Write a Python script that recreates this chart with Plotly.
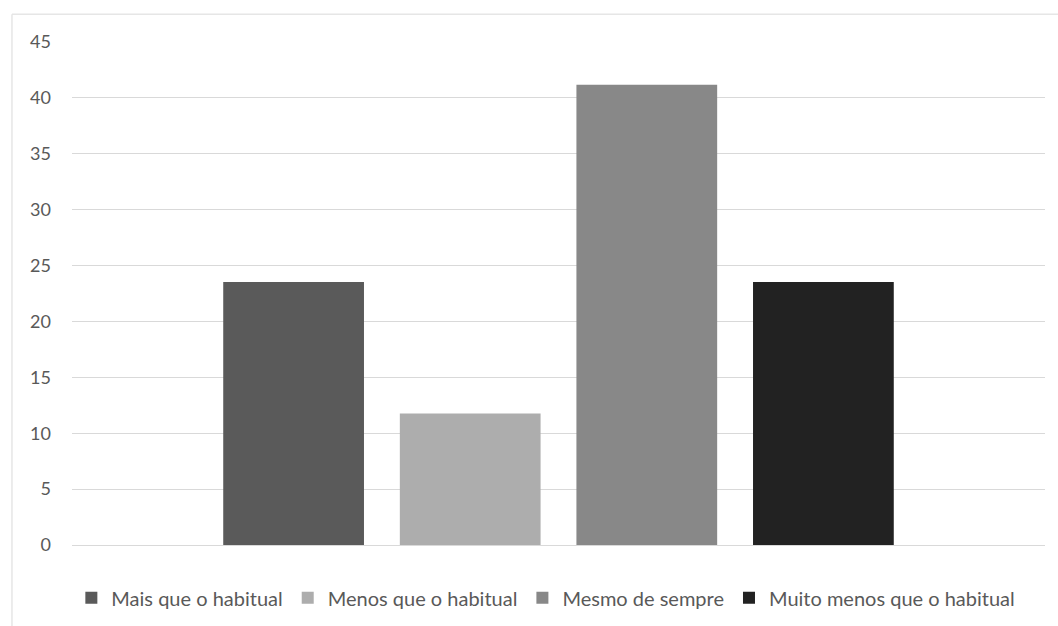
import plotly.graph_objects as go

categories = [""]
series_names = ["Mais que o habitual", "Menos que o habitual", "Mesmo de sempre", "Muito menos que o habitual"]
series_values = [23.53, 11.76, 41.18, 23.53]
series_colors = ["#5a5a5a", "#adadad", "#888888", "#222222"]
y_ticks = [0, 5, 10, 15, 20, 25, 30, 35, 40, 45]

fig = go.Figure()
for name, val, col in zip(series_names, series_values, series_colors):
    fig.add_trace(go.Bar(x=categories, y=[val], name=name, marker=dict(color=col, line=dict(width=0))))

fig.update_layout(
    width=1058, height=626,
    barmode="group", bargap=0.274, bargroupgap=0.203,
    plot_bgcolor="white", paper_bgcolor="white",
    margin=dict(l=72, r=13, t=42, b=81, autoexpand=False),
    font=dict(family="Lato", size=18, color="#595959"),
    showlegend=True,
    legend=dict(orientation="h", x=0.487, xanchor="center", y=-0.105, yanchor="middle",
                font=dict(family="Lato", size=20, color="#595959"), itemwidth=30, tracegroupgap=0),
    xaxis=dict(showticklabels=False, showgrid=False, zeroline=False, showline=False),
    yaxis=dict(range=[0, 45], tickvals=y_ticks, showgrid=True, gridcolor="#d9d9d9", gridwidth=1,
               zeroline=True, zerolinecolor="#d9d9d9", zerolinewidth=1, showline=False,
               ticks="", ticklabelstandoff=20, tickfont=dict(family="Lato", size=18, color="#595959")),
    shapes=[
        dict(type="line", xref="paper", yref="paper", x0=-0.0617, x1=1.02, y0=1.055, y1=1.055,
             line=dict(color="#e6e6e6", width=1.5)),
        dict(type="line", xref="paper", yref="paper", x0=-0.0617, x1=-0.0617, y0=1.055, y1=-0.2,
             line=dict(color="#e6e6e6", width=1.5)),
    ],
)

fig.write_html("out.html")
